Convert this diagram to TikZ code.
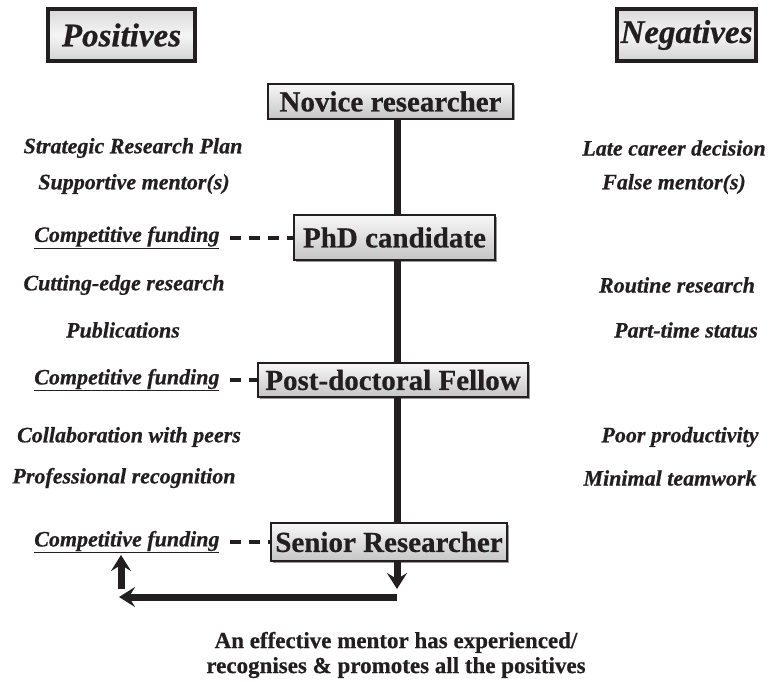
\documentclass[tikz,border=0pt]{standalone}
\usepackage{fontspec}
\setmainfont{Liberation Serif}[BoldFeatures={FakeBold=0.6}, BoldItalicFeatures={FakeBold=0.6}]
\usetikzlibrary{arrows.meta,shadows}

\definecolor{frame}{HTML}{231F20}

\tikzset{
  stage/.style={draw=frame, line width=1.2pt, top color=gray!6, bottom color=gray!45,
    inner xsep=4pt, inner ysep=1pt, text=frame, font=\fontsize{29}{30}\selectfont\bfseries,
    drop shadow={shadow xshift=1.5pt, shadow yshift=-1.5pt, fill=gray!80, opacity=1}},
  header/.style={draw=frame, line width=4.5pt, top color=gray!30, bottom color=gray!35,
    middle color=gray!8, minimum height=52pt, text=frame,
    inner xsep=2pt, font=\fontsize{33}{36}\selectfont\bfseries\itshape},
  side/.style={font=\fontsize{22}{24}\selectfont\bfseries\itshape, text=frame},
  good/.style={side},
  bad/.style={side},
  funding/.style={side},
  trunk/.style={line width=7pt, draw=frame},
  flow/.style={line width=7pt, draw=frame,
    -{Stealth[length=16pt, width=20pt, inset=6pt]}},
  link/.style={line width=4pt, draw=frame, dash pattern=on 11pt off 8pt},
  note/.style={font=\fontsize{23}{25}\selectfont\bfseries, text=frame, align=center,
    inner sep=0pt}
}

\begin{document}
\begin{tikzpicture}[x=1pt, y=-1pt]
  \useasboundingbox (0,0) rectangle (773,682);

  % column headings
  \node[header, minimum width=147pt] (pos) at (121.5,35) {Positives};
  \node[header, minimum width=139pt] (neg) at (686.5,35) {Negatives};

  % career stages
  \node[stage, minimum width=245pt, minimum height=35pt] (novice)  at (390.5,101.5) {Novice researcher};
  \node[stage, minimum width=201pt, minimum height=45pt] (phd)     at (394.5,237.5) {PhD candidate};
  \node[stage, minimum width=270pt, minimum height=34pt] (postdoc) at (393,380)     {Post-doctoral Fellow};
  \node[stage, minimum width=236pt, minimum height=38pt] (senior)  at (389,542)     {Senior Researcher};

  % trunk line and the loop back to the positives
  \coordinate (axis) at (397,0);
  \coordinate (drop) at (397,589);
  \coordinate (turn) at (397,597);
  \coordinate (back) at (119,597);
  \coordinate (risebase) at (121,589);
  \coordinate (risetop)  at (121,555);
  \draw[trunk] (novice.south -| axis) -- (phd.north -| axis);
  \draw[trunk] (phd.south -| axis) -- (postdoc.north -| axis);
  \draw[trunk] (postdoc.south -| axis) -- (senior.north -| axis);
  \draw[flow] (senior.south -| axis) -- (drop);
  \draw[flow] (turn) -- (back);
  \draw[flow] (risebase) -- (risetop);

  % positives
  \node[good] (p1) at (133,148) {Strategic Research Plan};
  \node[good] (p2) at (134,184) {Supportive mentor(s)};
  \node[good] (p3) at (124,285) {Cutting-edge research};
  \node[good] (p4) at (123,330) {Publications};
  \node[good] (p5) at (129,437) {Collaboration with peers};
  \node[good] (p6) at (124,478) {Professional recognition};

  % negatives
  \node[bad] (n1) at (674,148) {Late career decision};
  \node[bad] (n2) at (674,184) {False mentor(s)};
  \node[bad] (n3) at (677,285) {Routine research};
  \node[bad] (n4) at (686,330) {Part-time status};
  \node[bad] (n5) at (680,437) {Poor productivity};
  \node[bad] (n6) at (670,478) {Minimal teamwork};

  % funding links
  \node[funding, anchor=east] (f1) at (223,237.5) {\underline{Competitive funding}};
  \node[funding, anchor=east] (f2) at (223,380)   {\underline{Competitive funding}};
  \node[funding, anchor=east] (f3) at (223,542)   {\underline{Competitive funding}};
  \draw[link] ([xshift=7pt]f1.east) -- (phd.west);
  \draw[link] ([xshift=7pt]f2.east) -- (postdoc.west);
  \draw[link] ([xshift=7pt]f3.east) -- (senior.west);

  % closing remark
  \node[note] (remark) at (396,655) {An effective mentor has experienced/\\recognises \& promotes all the positives};
\end{tikzpicture}
\end{document}
